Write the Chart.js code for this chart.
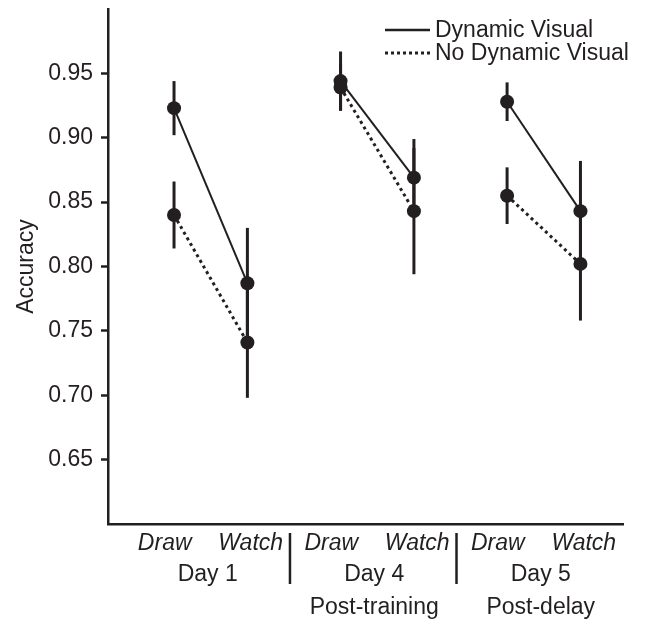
<!DOCTYPE html>
<html>
<head>
<meta charset="utf-8">
<script src="https://cdn.jsdelivr.net/npm/chart.js@4.4.1/dist/chart.umd.min.js"></script>
<style>
    html, body { margin: 0; padding: 0; background: #fff; }
    #wrap { width: 649px; height: 622px; }
</style>
</head>
<body>
<div id="wrap"><canvas id="accuracyChart"></canvas></div>
<script>
// Data
const days = ['Day 1', 'Day 4', 'Day 5'];
const dayNotes = ['', 'Post-training', 'Post-delay'];
const conditions = ['Draw', 'Watch'];
const yTicks = [0.65, 0.70, 0.75, 0.80, 0.85, 0.90, 0.95];

// order: Day1 Draw, Day1 Watch, Day4 Draw, Day4 Watch, Day5 Draw, Day5 Watch
const dynamicVisual = [0.923, 0.787, 0.944, 0.869, 0.928, 0.843];
const dynamicVisualErr = [0.021, 0.043, 0.023, 0.030, 0.015, 0.039];
const noDynamicVisual = [0.840, 0.741, 0.939, 0.843, 0.855, 0.802];
const noDynamicVisualErr = [0.026, 0.043, 0.018, 0.049, 0.022, 0.044];

const ink = '#231f20';
const family = '"Liberation Sans", Arial, Helvetica, sans-serif';
const fontSize = 23;
const groupSpacing = 2.27;

const xPos = days.flatMap((d, g) => conditions.map((c, i) => g * groupSpacing + i));
const toPoints = values => values.map((v, i) => ({ x: xPos[i], y: v }));

// lines only join Draw -> Watch inside the same day
const withinDay = color => ctx => (ctx.p0DataIndex % 2 === 0 ? color : 'rgba(0,0,0,0)');

const errorBars = {
    id: 'errorBars',
    beforeDatasetsDraw(chart) {
        const { ctx, scales: { x, y } } = chart;
        const sets = [
            [dynamicVisual, dynamicVisualErr],
            [noDynamicVisual, noDynamicVisualErr]
        ];
        ctx.save();
        ctx.strokeStyle = ink;
        ctx.lineWidth = 3;
        sets.forEach(([vals, errs]) => {
            vals.forEach((v, i) => {
                const px = x.getPixelForValue(xPos[i]);
                ctx.beginPath();
                ctx.moveTo(px, y.getPixelForValue(v + errs[i]));
                ctx.lineTo(px, y.getPixelForValue(v - errs[i]));
                ctx.stroke();
            });
        });
        ctx.restore();
    }
};

const groupLabels = {
    id: 'groupLabels',
    afterDraw(chart) {
        const { ctx, scales: { x }, chartArea } = chart;
        const base = chartArea.bottom;
        ctx.save();
        ctx.fillStyle = ink;
        ctx.textAlign = 'center';
        ctx.textBaseline = 'middle';
        days.forEach((day, g) => {
            const left = x.getPixelForValue(xPos[g * 2]);
            const right = x.getPixelForValue(xPos[g * 2 + 1]);
            const mid = (left + right) / 2 - 3;
            ctx.font = 'italic ' + fontSize + 'px ' + family;
            ctx.fillText(conditions[0], mid - 43, base + 20);
            ctx.fillText(conditions[1], mid + 43, base + 20);
            ctx.font = fontSize + 'px ' + family;
            ctx.fillText(day, mid, base + 51);
            if (dayNotes[g]) ctx.fillText(dayNotes[g], mid, base + 84);
        });
        // separators between days
        ctx.strokeStyle = ink;
        ctx.lineWidth = 2.5;
        for (let g = 1; g < days.length; g++) {
            const sx = x.getPixelForValue((xPos[g * 2 - 1] + xPos[g * 2]) / 2) - 4;
            ctx.beginPath();
            ctx.moveTo(sx, base + 9);
            ctx.lineTo(sx, base + 60);
            ctx.stroke();
        }
        ctx.restore();
    }
};

const lineLegend = {
    id: 'lineLegend',
    afterDraw(chart) {
        const { ctx } = chart;
        const items = [
            { text: 'Dynamic Visual', dash: [], width: 2.7, y: 30 },
            { text: 'No Dynamic Visual', dash: [3, 3], width: 3, y: 53 }
        ];
        ctx.save();
        ctx.strokeStyle = ink;
        ctx.fillStyle = ink;
        ctx.font = fontSize + 'px ' + family;
        ctx.textBaseline = 'middle';
        ctx.textAlign = 'left';
        items.forEach(item => {
            ctx.setLineDash(item.dash);
            ctx.lineWidth = item.width;
            ctx.beginPath();
            ctx.moveTo(385, item.y);
            ctx.lineTo(430, item.y);
            ctx.stroke();
            ctx.fillText(item.text, 435, item.y + 1);
        });
        ctx.restore();
    }
};

new Chart(document.getElementById('accuracyChart'), {
    type: 'line',
    data: {
        datasets: [
            {
                label: 'Dynamic Visual',
                data: toPoints(dynamicVisual),
                borderColor: ink,
                backgroundColor: ink,
                borderWidth: 2,
                pointRadius: 7,
                pointBorderWidth: 0,
                segment: { borderColor: withinDay(ink) }
            },
            {
                label: 'No Dynamic Visual',
                data: toPoints(noDynamicVisual),
                borderColor: ink,
                backgroundColor: ink,
                borderWidth: 3,
                borderDash: [3, 3.5],
                pointRadius: 7,
                pointBorderWidth: 0,
                segment: { borderColor: withinDay(ink) }
            }
        ]
    },
    options: {
        responsive: true,
        maintainAspectRatio: false,
        animation: false,
        layout: {
            padding: { left: 8, top: 9, right: 26, bottom: 0 }
        },
        plugins: {
            legend: { display: false },
            tooltip: { enabled: false }
        },
        scales: {
            x: {
                type: 'linear',
                min: -0.9,
                max: 6.12,
                ticks: { display: false },
                grid: { display: false, drawTicks: false },
                border: { display: true, color: ink, width: 2.5 },
                afterFit: scale => {
                    scale.height = 98;
                    scale.paddingLeft = 0;
                    scale.paddingRight = 0;
                }
            },
            y: {
                type: 'linear',
                min: 0.6,
                max: 1.0,
                afterBuildTicks: scale => {
                    scale.ticks = yTicks.map(v => ({ value: v }));
                },
                ticks: {
                    color: ink,
                    padding: 8,
                    font: { size: fontSize, family: family },
                    callback: v => v.toFixed(2)
                },
                grid: {
                    display: true,
                    drawOnChartArea: false,
                    drawTicks: true,
                    tickLength: 7,
                    tickWidth: 2.5,
                    tickColor: ink
                },
                border: { display: true, color: ink, width: 2.5 },
                title: {
                    display: true,
                    text: 'Accuracy',
                    color: ink,
                    font: { size: fontSize, family: family },
                    padding: { top: 5, bottom: 0 }
                },
                afterFit: scale => {
                    scale.width = 100;
                    scale.paddingTop = 0;
                    scale.paddingBottom = 0;
                }
            }
        }
    },
    plugins: [errorBars, groupLabels, lineLegend]
});
</script>
</body>
</html>
